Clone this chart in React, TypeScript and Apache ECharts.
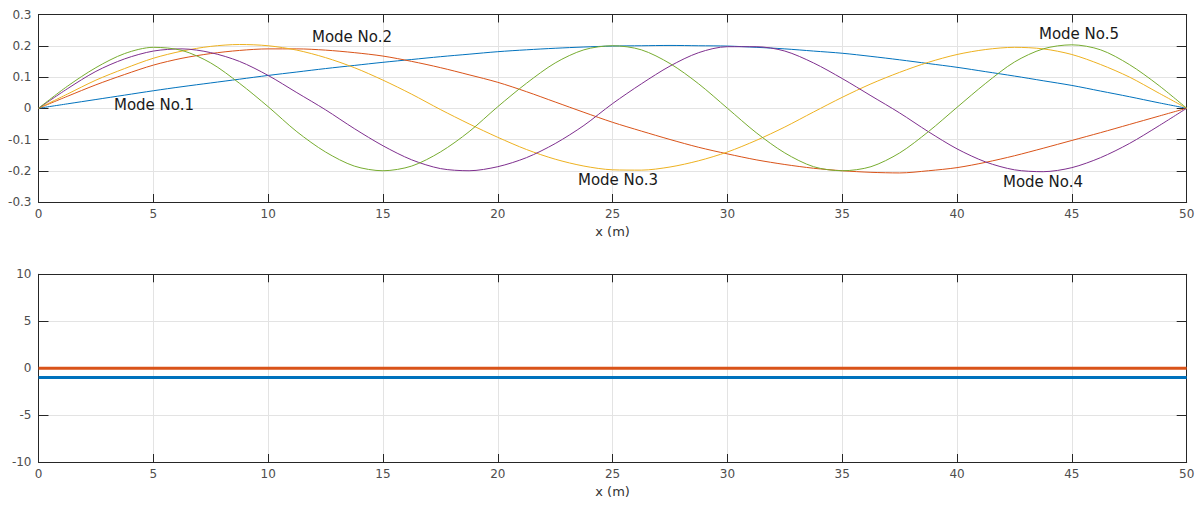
import React, { useEffect, useRef } from "react";
import * as echarts from "echarts";

const xValues = [0, 1.25, 2.5, 3.75, 5, 6.25, 7.5, 8.75, 10, 11.25, 12.5, 13.75, 15, 16.25, 17.5, 18.75, 20, 21.25, 22.5, 23.75, 25, 26.25, 27.5, 28.75, 30, 31.25, 32.5, 33.75, 35, 36.25, 37.5, 38.75, 40, 41.25, 42.5, 43.75, 45, 46.25, 47.5, 48.75, 50];
const mode1 = [0, 0.014, 0.028, 0.042, 0.056, 0.069, 0.081, 0.093, 0.105, 0.116, 0.127, 0.137, 0.147, 0.156, 0.165, 0.173, 0.181, 0.187, 0.192, 0.196, 0.199, 0.2, 0.201, 0.2, 0.199, 0.195, 0.19, 0.183, 0.176, 0.166, 0.155, 0.143, 0.131, 0.117, 0.103, 0.088, 0.073, 0.055, 0.037, 0.018, 0];
const mode2 = [0, 0.038, 0.075, 0.108, 0.138, 0.16, 0.175, 0.185, 0.19, 0.19, 0.186, 0.178, 0.167, 0.15, 0.13, 0.107, 0.083, 0.053, 0.02, -0.013, -0.045, -0.073, -0.1, -0.125, -0.146, -0.165, -0.18, -0.192, -0.2, -0.205, -0.207, -0.2, -0.19, -0.173, -0.152, -0.128, -0.103, -0.078, -0.052, -0.026, 0];
const mode3 = [0, 0.045, 0.09, 0.127, 0.16, 0.183, 0.198, 0.204, 0.2, 0.186, 0.162, 0.13, 0.09, 0.045, -0.004, -0.05, -0.093, -0.132, -0.163, -0.185, -0.197, -0.198, -0.188, -0.168, -0.14, -0.103, -0.06, -0.012, 0.035, 0.078, 0.115, 0.147, 0.172, 0.188, 0.195, 0.19, 0.172, 0.14, 0.1, 0.05, 0];
const mode4 = [0, 0.062, 0.118, 0.158, 0.183, 0.19, 0.178, 0.15, 0.105, 0.05, -0.005, -0.065, -0.12, -0.165, -0.193, -0.2, -0.187, -0.158, -0.113, -0.055, 0.015, 0.078, 0.135, 0.178, 0.197, 0.197, 0.183, 0.145, 0.095, 0.04, -0.015, -0.075, -0.13, -0.172, -0.197, -0.203, -0.19, -0.158, -0.113, -0.058, 0];
const mode5 = [0, 0.07, 0.13, 0.175, 0.195, 0.185, 0.145, 0.08, 0.005, -0.075, -0.14, -0.185, -0.2, -0.185, -0.14, -0.075, 0.005, 0.08, 0.145, 0.187, 0.2, 0.187, 0.143, 0.078, 0, -0.078, -0.143, -0.187, -0.2, -0.187, -0.143, -0.075, 0.003, 0.08, 0.148, 0.19, 0.203, 0.187, 0.14, 0.075, 0];
const modeNames = ["Mode No.1", "Mode No.2", "Mode No.3", "Mode No.4", "Mode No.5"];
const modeColors = ["#0072BD", "#D95319", "#EDB120", "#7E2F8E", "#77AC30"];

const lowerX = [0, 50];
const lowerBlue = [-1, -1];
const lowerOrange = [0, 0];

const FONT = "DejaVu Sans";
const axisDark = "#262626";
const gridGray = "#e3e3e3";

function xAxisPair(gridIndex: number) {
  const base = {
    gridIndex,
    type: "value" as const,
    min: 0,
    max: 50,
    interval: 5,
  };
  return [
    {
      ...base,
      position: "bottom",
      name: "x (m)",
      nameLocation: "middle",
      nameGap: 23,
      nameTextStyle: { fontFamily: FONT, fontSize: 13, color: "#333" },
      axisLine: { show: true, onZero: false, lineStyle: { color: axisDark, width: 1 } },
      axisTick: { show: true, inside: true, length: 8, lineStyle: { color: axisDark } },
      axisLabel: { fontFamily: FONT, fontSize: 12, color: "#4d4d4d", margin: 6 },
      splitLine: { show: true, lineStyle: { color: gridGray, width: 1 } },
    },
    {
      ...base,
      position: "top",
      axisLine: { show: true, onZero: false, lineStyle: { color: axisDark, width: 1 } },
      axisTick: { show: true, inside: true, length: 8, lineStyle: { color: axisDark } },
      axisLabel: { show: false },
      splitLine: { show: false },
    },
  ];
}

function yAxisPair(gridIndex: number, min: number, max: number, interval: number) {
  const base = { gridIndex, type: "value" as const, min, max, interval };
  return [
    {
      ...base,
      position: "left",
      axisLine: { show: true, onZero: false, lineStyle: { color: axisDark, width: 1 } },
      axisTick: { show: true, inside: true, length: 10, lineStyle: { color: axisDark } },
      axisLabel: { fontFamily: FONT, fontSize: 12, color: "#4d4d4d", margin: 7 },
      splitLine: { show: true, lineStyle: { color: gridGray, width: 1 } },
    },
    {
      ...base,
      position: "right",
      axisLine: { show: true, onZero: false, lineStyle: { color: axisDark, width: 1 } },
      axisTick: { show: true, inside: true, length: 10, lineStyle: { color: axisDark } },
      axisLabel: { show: false },
      splitLine: { show: false },
    },
  ];
}

export default function App() {
  const ref = useRef<HTMLDivElement>(null);
  useEffect(() => {
    if (!ref.current) return;
    const chart = echarts.init(ref.current, null, { renderer: "svg" });
    const modes = [mode1, mode2, mode3, mode4, mode5];
    const modeSeries = modes.map((m, k) => ({
      type: "line",
      name: modeNames[k],
      xAxisIndex: 0,
      yAxisIndex: 0,
      data: xValues.map((x, i) => [x, m[i]]),
      smooth: 0.3,
      showSymbol: false,
      symbol: "none",
      lineStyle: { color: modeColors[k], width: 1 },
      itemStyle: { color: modeColors[k] },
      z: 3 + k,
    }));
    const labelPos = [
      [154, 105],
      [352, 37],
      [618, 180],
      [1043, 182],
      [1079, 34],
    ];
    chart.setOption({
      animation: false,
      backgroundColor: "#ffffff",
      grid: [
        { left: 38.5, top: 14.5, width: 1148.2, height: 187.5, containLabel: false },
        { left: 38.5, top: 274.3, width: 1148.2, height: 187.7, containLabel: false },
      ],
      xAxis: [...xAxisPair(0), ...xAxisPair(1)],
      yAxis: [...yAxisPair(0, -0.3, 0.3, 0.1), ...yAxisPair(1, -10, 10, 5)],
      series: [
        ...modeSeries,
        {
          type: "line",
          name: "lower1",
          xAxisIndex: 2,
          yAxisIndex: 2,
          data: lowerX.map((x, i) => [x, lowerBlue[i]]),
          showSymbol: false,
          symbol: "none",
          lineStyle: { color: "#0072BD", width: 3 },
        },
        {
          type: "line",
          name: "lower2",
          xAxisIndex: 2,
          yAxisIndex: 2,
          data: lowerX.map((x, i) => [x, lowerOrange[i]]),
          showSymbol: false,
          symbol: "none",
          lineStyle: { color: "#D95319", width: 3 },
        },
      ],
      graphic: modeNames.map((t, k) => ({
        type: "text",
        x: labelPos[k][0],
        y: labelPos[k][1],
        z: 100,
        style: {
          text: t,
          fontFamily: FONT,
          fontSize: 15,
          fill: "#1a1a1a",
          textAlign: "center",
          textVerticalAlign: "middle",
        },
      })),
    });
    return () => chart.dispose();
  }, []);
  return (
    <div
      ref={ref}
      style={{ position: "absolute", left: 0, top: 0, width: 1203, height: 505, background: "#fff" }}
    />
  );
}
